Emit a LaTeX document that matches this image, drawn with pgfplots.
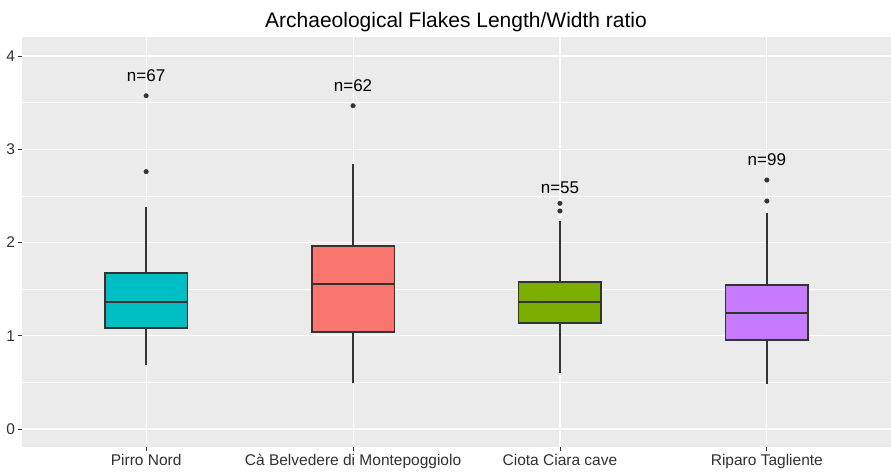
\documentclass[border=0pt]{standalone}
\usepackage{pgfplots}
\pgfplotsset{compat=1.18}
\usepgfplotslibrary{statistics}
\usepackage{fontspec}
\setmainfont{Liberation Sans}
\definecolor{panel}{HTML}{EBEBEB}
\definecolor{dk}{HTML}{333333}
\definecolor{txt}{HTML}{303030}
\definecolor{cA}{HTML}{00BFC4}
\definecolor{cB}{HTML}{F8766D}
\definecolor{cC}{HTML}{7CAE00}
\definecolor{cD}{HTML}{C77CFF}
\pgfplotsset{
  gbox/.style={
    boxplot/every box/.style={fill=#1, draw=dk, line width=1.8pt},
    boxplot/every median/.style={draw=dk, line width=1.8pt},
    boxplot/every whisker/.style={draw=dk, line width=1.6pt},
    draw=dk, line width=1.6pt,
    mark=*, mark size=2.3pt, mark options={solid, fill=dk, draw=dk, line width=0.3pt},
  }
}
\begin{document}
\begin{tikzpicture}
\useasboundingbox (0,0) rectangle (891pt,471pt);
\begin{axis}[
  at={(22pt,24pt)}, anchor=south west,
  scale only axis, width=869pt, height=410pt,
  xmin=0.4, xmax=4.6, ymin=-0.193, ymax=4.204,
  axis background/.style={fill=panel},
  axis line style={draw=none},
  xtick={1,2,3,4},
  xticklabels={Pirro Nord, Cà Belvedere di Montepoggiolo, Ciota Ciara cave, Riparo Tagliente},
  ytick={0,1,2,3,4},
  minor ytick={0.5,1.5,2.5,3.5},
  ymajorgrids, yminorgrids, xmajorgrids,
  major grid style={white, line width=1.1pt},
  minor grid style={white, line width=0.55pt},
  tick align=outside,
  major tick length=3.5pt, minor tick length=0pt,
  tick style={draw=dk, line width=0.8pt},
  xtick pos=bottom, ytick pos=left,
  /pgf/number format/assume math mode=true,
  ticklabel style={font=\fontsize{15.5}{18}\selectfont, text=txt},
  clip=false,
  boxplot/draw direction=y,
]
\addplot[gbox=cA, boxplot prepared={median=1.365, upper quartile=1.676, lower quartile=1.08,
  upper whisker=2.384, lower whisker=0.686, draw position=1, box extend=0.4, whisker extend=0}]
  table[row sep=\\, y index=0] {y\\ 3.574\\ 2.76\\};
\addplot[gbox=cB, boxplot prepared={median=1.555, upper quartile=1.966, lower quartile=1.044,
  upper whisker=2.842, lower whisker=0.49, draw position=2, box extend=0.4, whisker extend=0}]
  table[row sep=\\, y index=0] {y\\ 3.467\\};
\addplot[gbox=cC, boxplot prepared={median=1.362, upper quartile=1.576, lower quartile=1.133,
  upper whisker=2.234, lower whisker=0.597, draw position=3, box extend=0.4, whisker extend=0}]
  table[row sep=\\, y index=0] {y\\ 2.42\\ 2.338\\};
\addplot[gbox=cD, boxplot prepared={median=1.248, upper quartile=1.544, lower quartile=0.951,
  upper whisker=2.313, lower whisker=0.483, draw position=4, box extend=0.4, whisker extend=0}]
  table[row sep=\\, y index=0] {y\\ 2.67\\ 2.445\\};
\node[font=\fontsize{17}{20}\selectfont, text=black] at (axis cs:1,3.786) {n=67};
\node[font=\fontsize{17}{20}\selectfont, text=black] at (axis cs:2,3.68) {n=62};
\node[font=\fontsize{17}{20}\selectfont, text=black] at (axis cs:3,2.59) {n=55};
\node[font=\fontsize{17}{20}\selectfont, text=black] at (axis cs:4,2.892) {n=99};
\end{axis}
\node[anchor=base, font=\fontsize{21}{25}\selectfont] at (456pt,443pt) {Archaeological Flakes Length/Width ratio};
\end{tikzpicture}
\end{document}
